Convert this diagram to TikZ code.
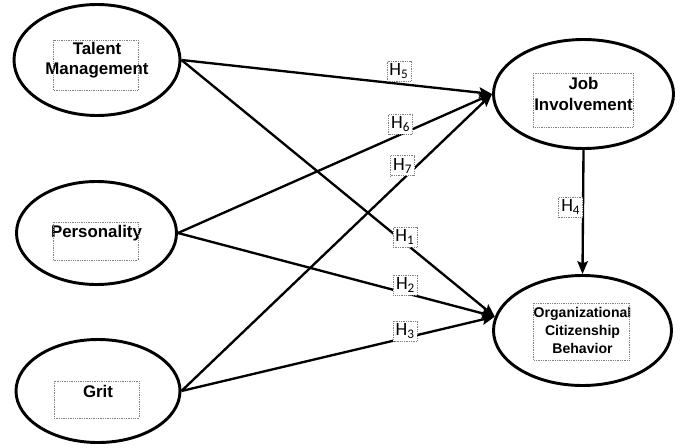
\documentclass[tikz,border=0pt]{standalone}
\usepackage{fontspec}
\setmainfont{Liberation Sans}
\newfontfamily\hypfont{Carlito}
\usetikzlibrary{shapes.geometric,arrows.meta}

\begin{document}
\begin{tikzpicture}[x=0.03cm, y=-0.03cm,
	construct/.style={ellipse, draw, line width=2.5pt, inner sep=0pt, align=center, font=\fontsize{14.4}{17.5}\selectfont\bfseries},
	txtbox/.style={draw=gray, densely dotted, line width=0.5pt},
	link/.style={-{Stealth[length=11pt,width=9pt,inset=2pt]}, line width=2pt},
	hyp/.style={draw=gray, densely dotted, line width=0.5pt, fill=white, inner sep=0.5pt, minimum width=0.72cm, minimum height=0.6cm, font=\hypfont\fontsize{16}{16}\selectfont}]
	\useasboundingbox (0,0) rectangle (681,447);

	\node[construct, minimum width=4.98cm, minimum height=3.33cm] (tm) at (97,60) {Talent\\Management};
	\node[construct, minimum width=4.8cm, minimum height=3.09cm] (pers) at (96.5,233) {Personality};
	\node[construct, minimum width=4.92cm, minimum height=3.09cm] (grit) at (98,391) {Grit};
	\node[construct, minimum width=5.4cm, minimum height=3.27cm] (ji) at (583.5,94) {Job\\Involvement};
	\node[construct, minimum width=5.34cm, minimum height=3.3cm, font=\fontsize{12}{15.4}\selectfont\bfseries] (ocb) at (582.5,330.5) {Organizational\\Citizenship\\Behavior};

	\draw[txtbox] (53,40) rectangle (138,90);
	\draw[txtbox] (53,222) rectangle (138,260);
	\draw[txtbox] (54,381) rectangle (139,418);
	\draw[txtbox] (533,73) rectangle (633,127);
	\draw[txtbox] (533,303) rectangle (629,360);

	\draw[link] (tm.east) -- node[hyp, pos=0.7, above=2pt] {H\textsubscript{5}} (ji.west);
	\draw[link] (pers.east) -- node[hyp, pos=0.709, above=0pt] {H\textsubscript{6}} (ji.west);
	\draw[link] (grit.east) -- node[hyp, pos=0.712, above=3pt] {H\textsubscript{7}} (ji.west);
	\draw[link] (tm.east) -- node[hyp, pos=0.713, yshift=5pt] {H\textsubscript{1}} (ocb.171);
	\draw[link] (pers.east) -- node[hyp, pos=0.718, yshift=7pt] {H\textsubscript{2}} (ocb.171);
	\draw[link] (grit.east) -- node[hyp, pos=0.714, yshift=6pt] {H\textsubscript{3}} (ocb.171);
	\draw[link] (ji.south) -- node[hyp, pos=0.46, left=0pt] {H\textsubscript{4}} (ocb.north);

\end{tikzpicture}
\end{document}
